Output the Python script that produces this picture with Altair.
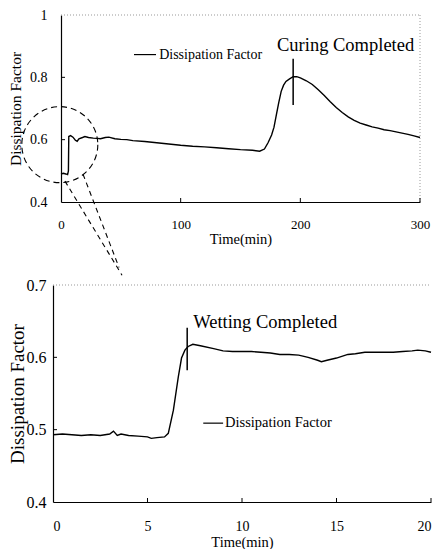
import altair as alt
import pandas as pd

FONT = "Liberation Serif"

# ---------------- data: overview (0-300 min) ----------------
top_time = [0, 2, 4, 5.5, 6.2, 6.5, 8, 10, 12, 13.5, 15, 18, 20, 23, 27, 30, 33, 37, 40,
            45, 50, 55, 60, 70, 80, 90, 100, 110, 120, 130, 140, 150, 160, 166, 170, 173,
            176, 178, 180, 182, 184, 186, 188, 191, 194, 197, 200, 205, 210, 215, 220, 225,
            230, 235, 240, 245, 250, 255, 260, 265, 270, 275, 280, 285, 290, 295, 300]
top_df_values = [0.49, 0.492, 0.49, 0.488, 0.50, 0.61, 0.613, 0.608, 0.598, 0.595, 0.603,
                 0.607, 0.61, 0.607, 0.605, 0.604, 0.603, 0.607, 0.608, 0.603, 0.601, 0.6,
                 0.597, 0.594, 0.59, 0.586, 0.582, 0.579, 0.577, 0.574, 0.571, 0.568, 0.566,
                 0.563, 0.57, 0.59, 0.615, 0.64, 0.68, 0.72, 0.755, 0.775, 0.787, 0.795,
                 0.802, 0.802, 0.798, 0.789, 0.777, 0.76, 0.742, 0.722, 0.703, 0.687, 0.673,
                 0.662, 0.653, 0.647, 0.641, 0.637, 0.632, 0.629, 0.625, 0.621, 0.617, 0.612,
                 0.607]

# ---------------- data: zoom (0-20 min) ----------------
bot_time = [0, 0.5, 1, 1.5, 2, 2.5, 3, 3.2, 3.4, 3.6, 4, 4.5, 5, 5.2, 5.5, 5.9, 6.1, 6.37,
            6.63, 6.8, 6.98, 7.15, 7.4, 7.8, 8.5, 9, 9.5, 10, 10.5, 11, 11.5, 12, 12.5, 13,
            13.5, 14, 14.2, 14.5, 15, 15.6, 16, 16.5, 17, 17.5, 18, 18.5, 19, 19.3, 19.7, 20]
bot_df_values = [0.493, 0.494, 0.493, 0.492, 0.493, 0.492, 0.494, 0.498, 0.492, 0.494,
                 0.492, 0.491, 0.490, 0.488, 0.489, 0.490, 0.495, 0.527, 0.573, 0.599,
                 0.61, 0.615, 0.618, 0.616, 0.612, 0.609, 0.608, 0.608, 0.608, 0.607,
                 0.606, 0.604, 0.604, 0.603, 0.6, 0.596, 0.594, 0.596, 0.599, 0.604, 0.605,
                 0.607, 0.607, 0.607, 0.607, 0.608, 0.609, 0.61, 0.609, 0.607]

# axis tick values
top_x_ticks = [0, 100, 200, 300]
top_y_ticks = [0.4, 0.6, 0.8, 1.0]
bot_x_ticks = [0, 5, 10, 15, 20]
bot_y_ticks = [0.4, 0.5, 0.6, 0.7]

# annotations (data coordinates)
cure_label = ["Curing Completed"]
cure_mark_t = [194]
cure_mark_v = [0.711, 0.86]
cure_text_pos = [180.5, 0.905]
top_legend_seg = [61, 79.4, 0.873]
top_legend_text = ["Dissipation Factor"]

wet_label = ["Wetting Completed"]
wet_mark_t = [7.1]
wet_mark_v = [0.582, 0.641]
wet_text_pos = [7.42, 0.649]
bot_legend_seg = [7.95, 9.0, 0.509]
bot_legend_text = ["Dissipation Factor"]

circle_center = [-1, 0.584]
conn_start_t = [3.3, 18.4]
conn_start_v = [0.467, 0.489]
conn_end_t = [51.0, 48.5]
conn_end_v = [0.165, 0.190]

TW, TH = 367, 187
BW, BH = 378, 217

# ---------------- top panel ----------------
top_df = pd.DataFrame({"t": top_time, "v": top_df_values})
tx = alt.Scale(domain=[0, 300], range=[8, TW])
ty = alt.Scale(domain=[0.4, 1.0])
tax = alt.Axis(values=top_x_ticks, format="d", title="Time(min)", labelFontSize=13,
               labelPadding=16, ticks=False, tickSize=0, labelFlush=False,
               labelOverlap=False, titleFontSize=14.5, titleY=41,
               titleBaseline="alphabetic")
tay = alt.Axis(values=top_y_ticks,
               labelExpr="datum.value == 1 ? '1' : format(datum.value, '.1f')",
               title="Dissipation Factor", labelFontSize=14, labelPadding=14,
               ticks=False, tickSize=0, offset=-8, titleFontSize=15.5, titleX=-40.5,
               titleBaseline="alphabetic", labelFlush=False)


def TX(f):
    return alt.X(f, scale=tx, axis=tax)


def TY(f):
    return alt.Y(f, scale=ty, axis=tay)


top_line = alt.Chart(top_df).mark_line(color="black", strokeWidth=1.4).encode(
    x=TX("t:Q"), y=TY("v:Q"))

top_border = alt.Chart(pd.DataFrame({"a": [0], "b": [300], "c": [1.0]})).mark_rule(
    color="#999999", strokeDash=[1, 2], strokeWidth=1).encode(
    x=TX("a:Q"), x2="b:Q", y=TY("c:Q"))
right_border = alt.Chart(pd.DataFrame({"a": [300], "b": [0.4], "c": [1.0]})).mark_rule(
    color="#999999", strokeDash=[1, 2], strokeWidth=1).encode(
    x=TX("a:Q"), y=TY("b:Q"), y2="c:Q")

top_xt = alt.Chart(pd.DataFrame({"t": top_x_ticks[1:]})).mark_rule(color="black").encode(
    x=TX("t:Q"), y=alt.value(TH), y2=alt.value(TH - 4))
top_yt = alt.Chart(pd.DataFrame({"v": top_y_ticks[1:3]})).mark_rule(color="black").encode(
    y=TY("v:Q"), x=alt.value(8), x2=alt.value(12))

cure_rule = alt.Chart(pd.DataFrame({"t": cure_mark_t, "a": [cure_mark_v[0]], "b": [cure_mark_v[1]]})).mark_rule(
    color="black", strokeWidth=1.5).encode(x=TX("t:Q"), y=TY("a:Q"), y2="b:Q")
cure_text = alt.Chart(pd.DataFrame({"t": [cure_text_pos[0]], "v": [cure_text_pos[1]], "s": cure_label})).mark_text(
    align="left", baseline="middle", font=FONT, fontSize=18.5, color="black").encode(
    x=TX("t:Q"), y=TY("v:Q"), text="s:N")

top_leg_rule = alt.Chart(pd.DataFrame({"a": [top_legend_seg[0]], "b": [top_legend_seg[1]], "v": [top_legend_seg[2]]})).mark_rule(
    color="black", strokeWidth=1.2).encode(x=TX("a:Q"), x2="b:Q", y=TY("v:Q"))
top_leg_text = alt.Chart(pd.DataFrame({"t": [top_legend_seg[1] + 2.6], "v": [top_legend_seg[2]], "s": top_legend_text})).mark_text(
    align="left", baseline="middle", font=FONT, fontSize=14, color="black").encode(
    x=TX("t:Q"), y=TY("v:Q"), text="s:N")

circle = alt.Chart(pd.DataFrame({"t": [circle_center[0]], "v": [circle_center[1]]})).mark_point(
    shape="circle", size=5776, filled=False, color="black", strokeDash=[6, 4],
    strokeWidth=1.1, opacity=1).encode(x=TX("t:Q"), y=TY("v:Q"))

conn = alt.Chart(pd.DataFrame({"a": conn_start_t, "b": conn_end_t, "c": conn_start_v, "d": conn_end_v})).mark_rule(
    color="black", strokeDash=[5, 4], strokeWidth=1.1).encode(
    x=TX("a:Q"), x2="b:Q", y=TY("c:Q"), y2="d:Q")

top = alt.layer(top_line, top_border, right_border, top_xt, top_yt, cure_rule, cure_text,
                top_leg_rule, top_leg_text, circle, conn).properties(width=TW, height=TH)

# ---------------- bottom panel ----------------
bot_df = pd.DataFrame({"t": bot_time, "v": bot_df_values})
bx = alt.Scale(domain=[0, 20])
by = alt.Scale(domain=[0.4, 0.7])
bax = alt.Axis(values=bot_x_ticks, format="d", title="Time(min)", labelFontSize=14,
               labelPadding=17, ticks=False, tickSize=0, labelFlush=True,
               labelOverlap=False, titleFontSize=14.5, titleY=44,
               titleBaseline="alphabetic")
bay = alt.Axis(values=bot_y_ticks, format=".1f", title="Dissipation Factor",
               labelFontSize=16, labelPadding=7, ticks=False, tickSize=0,
               titleFontSize=19, titleX=-30, titleBaseline="alphabetic",
               labelFlush=False)


def BX(f):
    return alt.X(f, scale=bx, axis=bax)


def BY(f):
    return alt.Y(f, scale=by, axis=bay)


bot_line = alt.Chart(bot_df).mark_line(color="black", strokeWidth=1.4).encode(
    x=BX("t:Q"), y=BY("v:Q"))

bot_border = alt.Chart(pd.DataFrame({"a": [0], "b": [20], "c": [0.7]})).mark_rule(
    color="#999999", strokeDash=[1, 2], strokeWidth=1).encode(
    x=BX("a:Q"), x2="b:Q", y=BY("c:Q"))

bot_xt = alt.Chart(pd.DataFrame({"t": bot_x_ticks[1:]})).mark_rule(color="black").encode(
    x=BX("t:Q"), y=alt.value(BH), y2=alt.value(BH - 4))
bot_yt = alt.Chart(pd.DataFrame({"v": bot_y_ticks[1:3]})).mark_rule(color="black").encode(
    y=BY("v:Q"), x=alt.value(0), x2=alt.value(4))

wet_rule = alt.Chart(pd.DataFrame({"t": wet_mark_t, "a": [wet_mark_v[0]], "b": [wet_mark_v[1]]})).mark_rule(
    color="black", strokeWidth=1.5).encode(x=BX("t:Q"), y=BY("a:Q"), y2="b:Q")
wet_text = alt.Chart(pd.DataFrame({"t": [wet_text_pos[0]], "v": [wet_text_pos[1]], "s": wet_label})).mark_text(
    align="left", baseline="middle", font=FONT, fontSize=18.5, color="black").encode(
    x=BX("t:Q"), y=BY("v:Q"), text="s:N")

bot_leg_rule = alt.Chart(pd.DataFrame({"a": [bot_legend_seg[0]], "b": [bot_legend_seg[1]], "v": [bot_legend_seg[2]]})).mark_rule(
    color="black", strokeWidth=1.2).encode(x=BX("a:Q"), x2="b:Q", y=BY("v:Q"))
bot_leg_text = alt.Chart(pd.DataFrame({"t": [bot_legend_seg[1] + 0.1], "v": [bot_legend_seg[2]], "s": bot_legend_text})).mark_text(
    align="left", baseline="middle", font=FONT, fontSize=14.5, color="black").encode(
    x=BX("t:Q"), y=BY("v:Q"), text="s:N")

bottom = alt.layer(bot_line, bot_border, bot_xt, bot_yt, wet_rule, wet_text,
                   bot_leg_rule, bot_leg_text).properties(width=BW, height=BH)

chart = alt.vconcat(top, bottom, spacing=83, bounds="flush").properties(
    padding={"left": 0, "top": 0, "right": 0, "bottom": 0}
).configure_view(stroke=None).configure_axis(
    grid=False, domainColor="black", domainWidth=1.2, labelColor="black",
    titleColor="black", labelFont=FONT, titleFont=FONT, titleFontWeight="normal",
    labelFontWeight="normal"
)

chart.save("out.html", embed_options={"renderer": "svg", "actions": False})
